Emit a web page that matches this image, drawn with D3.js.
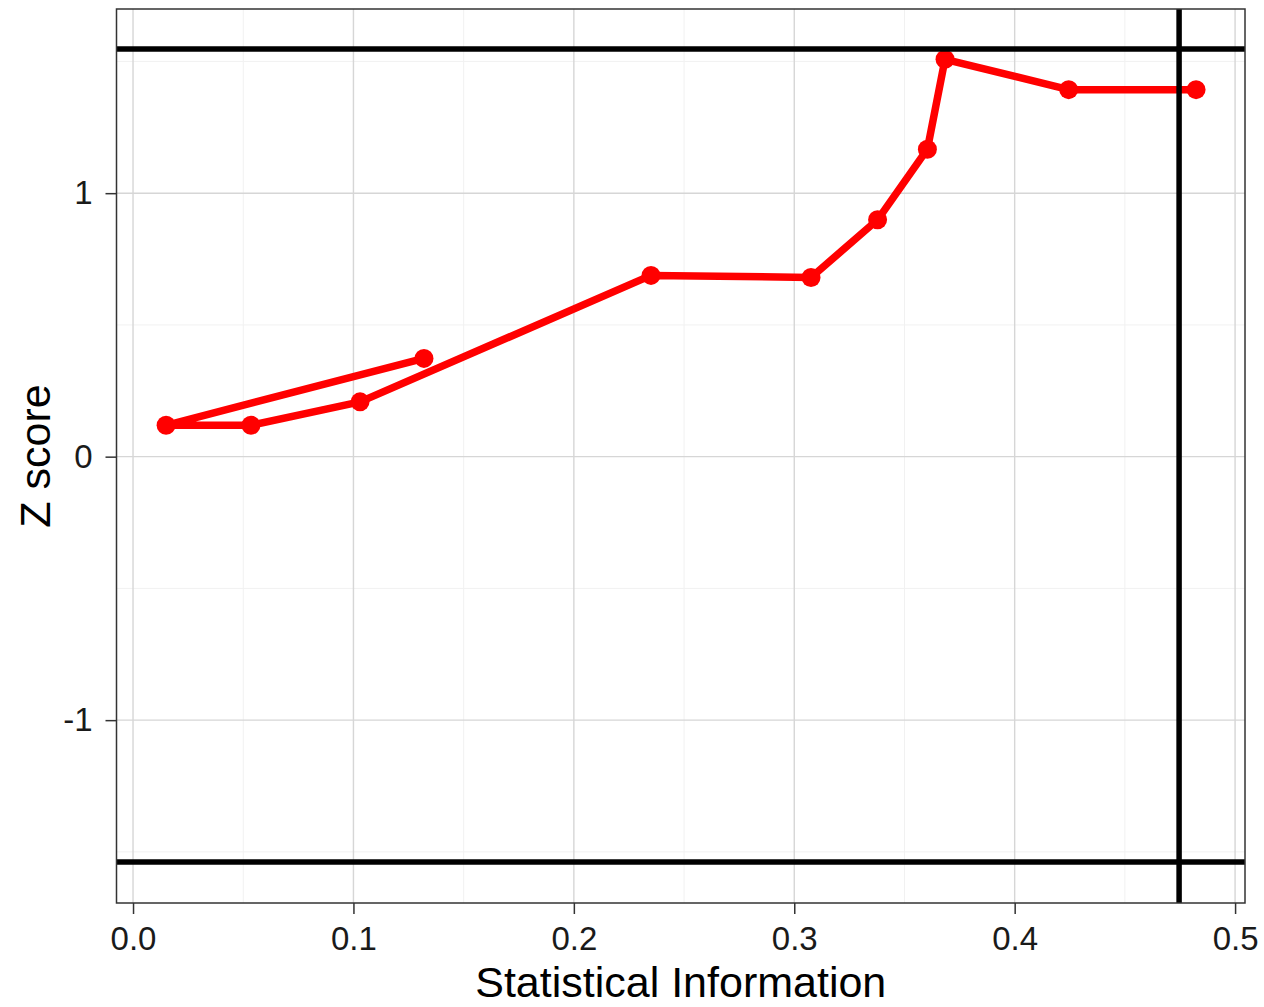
<!DOCTYPE html>
<html>
<head>
<meta charset="utf-8">
<script src="https://cdn.jsdelivr.net/npm/d3@7"></script>
<style>
  body { margin: 0; background: #fff; }
  text { font-family: "Liberation Sans", Arial, sans-serif; }
</style>
</head>
<body>
<div id="chart"></div>
<script>
// values
var infoFraction = [0.132, 0.015, 0.0535, 0.103, 0.235, 0.3076, 0.3378, 0.3604, 0.3684, 0.4245, 0.4823];
var zScores      = [0.373, 0.119, 0.119, 0.208, 0.688, 0.680, 0.899, 1.167, 1.508, 1.393, 1.393];
var boundaries   = [1.547, -1.538];
var maxInfo      = [0.4746];
var xTicks       = [0.0, 0.1, 0.2, 0.3, 0.4, 0.5];
var xTickLabels  = ["0.0", "0.1", "0.2", "0.3", "0.4", "0.5"];
var yTicks       = [-1, 0, 1];
var xMinor       = [0.05, 0.15, 0.25, 0.35, 0.45];
var yMinor       = [-1.5, -0.5, 0.5, 1.5];

var width = 1264, height = 1007;
var margin = { left: 116.5, top: 9, right: 19, bottom: 104 };
var innerWidth = width - margin.left - margin.right;
var innerHeight = height - margin.top - margin.bottom;

var svg = d3.select("#chart").append("svg")
    .attr("width", width)
    .attr("height", height);

var g = svg.append("g")
    .attr("transform", "translate(" + margin.left + "," + margin.top + ")");

// scales
var x = d3.scaleLinear().domain([-0.0075, 0.5045]).range([0, innerWidth]);
var y = d3.scaleLinear().domain([-1.694, 1.699]).range([innerHeight, 0]);

// minor grid
g.selectAll(".xminor").data(xMinor).enter().append("line")
    .attr("x1", function (d) { return x(d); }).attr("x2", function (d) { return x(d); })
    .attr("y1", 0).attr("y2", innerHeight)
    .attr("stroke", "#f1f1f1").attr("stroke-width", 1);
g.selectAll(".yminor").data(yMinor).enter().append("line")
    .attr("y1", function (d) { return y(d); }).attr("y2", function (d) { return y(d); })
    .attr("x1", 0).attr("x2", innerWidth)
    .attr("stroke", "#f1f1f1").attr("stroke-width", 1);

// major grid
g.selectAll(".xmajor").data(xTicks).enter().append("line")
    .attr("x1", function (d) { return x(d); }).attr("x2", function (d) { return x(d); })
    .attr("y1", 0).attr("y2", innerHeight)
    .attr("stroke", "#d6d6d6").attr("stroke-width", 1.4);
g.selectAll(".ymajor").data(yTicks).enter().append("line")
    .attr("y1", function (d) { return y(d); }).attr("y2", function (d) { return y(d); })
    .attr("x1", 0).attr("x2", innerWidth)
    .attr("stroke", "#d6d6d6").attr("stroke-width", 1.4);

// the path in data order
var line = d3.line()
    .x(function (d, i) { return x(infoFraction[i]); })
    .y(function (d) { return y(d); });

g.append("path")
    .datum(zScores)
    .attr("d", line)
    .attr("fill", "none")
    .attr("stroke", "#ff0000")
    .attr("stroke-width", 7.5)
    .attr("stroke-linejoin", "round");

g.selectAll(".pt").data(zScores).enter().append("circle")
    .attr("cx", function (d, i) { return x(infoFraction[i]); })
    .attr("cy", function (d) { return y(d); })
    .attr("r", 9.5)
    .attr("fill", "#ff0000");

// boundary lines
g.selectAll(".bound").data(boundaries).enter().append("line")
    .attr("y1", function (d) { return y(d); }).attr("y2", function (d) { return y(d); })
    .attr("x1", 0).attr("x2", innerWidth)
    .attr("stroke", "#000").attr("stroke-width", 5.5);
g.selectAll(".vline").data(maxInfo).enter().append("line")
    .attr("x1", function (d) { return x(d); }).attr("x2", function (d) { return x(d); })
    .attr("y1", 0).attr("y2", innerHeight)
    .attr("stroke", "#000").attr("stroke-width", 5.5);

// panel border
g.append("rect")
    .attr("width", innerWidth).attr("height", innerHeight)
    .attr("fill", "none").attr("stroke", "#333").attr("stroke-width", 1.5);

// axes
var xAxis = d3.axisBottom(x).tickValues(xTicks)
    .tickFormat(function (d, i) { return xTickLabels[i]; })
    .tickSize(11).tickPadding(13);
var yAxis = d3.axisLeft(y).tickValues(yTicks)
    .tickFormat(d3.format("d"))
    .tickSize(11).tickPadding(13);

var xg = g.append("g").attr("transform", "translate(0," + innerHeight + ")").call(xAxis);
var yg = g.append("g").call(yAxis);
[xg, yg].forEach(function (a) {
    a.select(".domain").remove();
    a.selectAll(".tick line").attr("stroke", "#333").attr("stroke-width", 1.5);
    a.selectAll(".tick text").attr("fill", "#1a1a1a").style("font-size", "33px");
});
yg.selectAll(".tick text").text(function (d) { return d < 0 ? "-" + Math.abs(d) : d; });

// axis titles
svg.append("text")
    .attr("x", margin.left + innerWidth / 2)
    .attr("y", 997)
    .attr("text-anchor", "middle")
    .style("font-size", "43px")
    .attr("fill", "#000")
    .text("Statistical Information");

svg.append("text")
    .attr("transform", "translate(50," + (margin.top + innerHeight / 2) + ") rotate(-90)")
    .attr("text-anchor", "middle")
    .style("font-size", "43px")
    .attr("fill", "#000")
    .text("Z score");
</script>
</body>
</html>
